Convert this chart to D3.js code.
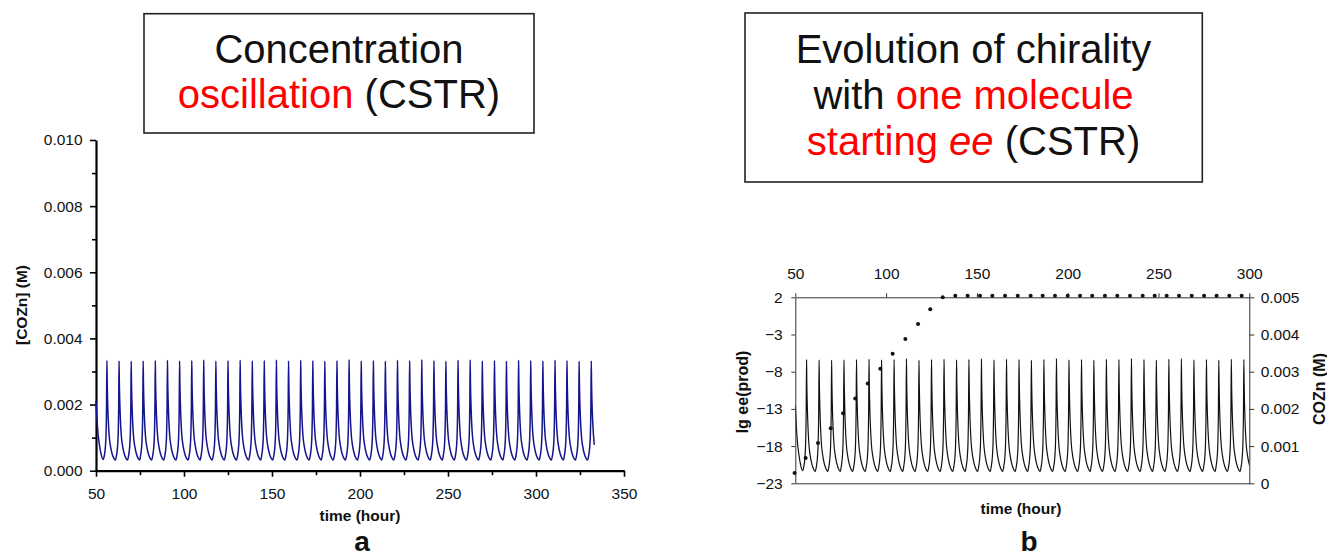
<!DOCTYPE html>
<html><head><meta charset="utf-8">
<script src="https://cdn.jsdelivr.net/npm/d3@7"></script>
<style>body{margin:0;background:#fff} svg{display:block} text{font-family:"Liberation Sans",Arial,sans-serif}</style>
</head><body><svg id="c" width="1327" height="558"></svg>
<script>
// ---------- DATA ----------
// COZn concentration (M): spike times (hour) and spike heights
const peakTimes = [56.2,63.1,70.0,76.8,83.7,90.6,97.5,104.4,111.2,118.1,125.0,131.9,138.8,145.6,152.5,159.4,166.3,173.2,180.0,186.9,193.8,200.7,207.6,214.4,221.3,228.2,235.1,242.0,248.8,255.7,262.6,269.5,276.4,283.2,290.1,297.0,303.9,310.8,317.6,324.5,331.4];
const peakValues = [0.00333,0.00332,0.00331,0.00332,0.00333,0.00334,0.00332,0.00333,0.00335,0.00331,0.00333,0.00334,0.00332,0.00333,0.00335,0.00332,0.00334,0.00333,0.00331,0.00333,0.00336,0.00332,0.00333,0.00331,0.00334,0.00333,0.00336,0.00333,0.00331,0.00334,0.00335,0.00332,0.00333,0.00331,0.00334,0.00333,0.00332,0.00334,0.00333,0.00331,0.00332];
// shape of one cycle: after a spike (hours after, value) and before the next spike (hours before, value)
const decayDt  = [0.15,0.4,0.8,1.3,2.0,2.9,3.9,4.8];
const decayVal = [0.0027,0.0021,0.0015,0.00105,0.00075,0.00052,0.00038,0.00032];
const riseDt   = [-1.5,-0.9,-0.5,-0.22];
const riseVal  = [0.00045,0.0007,0.0011,0.0019];
// beginning and end of the trace
const startTimes  = [50,50.5,51.1,51.9,52.9,54.0];
const startValues = [0.0021,0.0016,0.00115,0.0008,0.0005,0.00034];
const endTime = 333.1, endValue = 0.00078;
// lg ee(prod) points (chart b)
const eeTimes  = [49.6,55.7,62.5,69.5,76.3,83.0,89.9,96.8,103.6,110.6,117.6,124.3,131.2,138.1,144.9,151.7,158.5,165.5,172.5,179.6,186.2,193.0,200.0,206.8,213.5,220.5,227.3,234.3,241.3,247.9,254.5,261.3,268.3,275.1,282.0,289.0,295.8];
const eeValues = [-21.6,-19.6,-17.6,-15.6,-13.6,-11.6,-9.6,-7.6,-5.6,-3.6,-1.6,0.4,2.0,2.2,2.2,2.2,2.2,2.2,2.2,2.2,2.2,2.2,2.2,2.2,2.2,2.2,2.2,2.2,2.2,2.2,2.2,2.2,2.2,2.2,2.2,2.2,2.2];
// ticks
const aXTicks = [50,75,100,125,150,175,200,225,250,275,300,325,350];
const aYTicks = [0,0.001,0.002,0.003,0.004,0.005,0.006,0.007,0.008,0.009,0.010];
const bXTicks = [50,100,150,200,250,300];
const bYLeftTicks = [2,-3,-8,-13,-18,-23];
const bYRightTicks = [0,0.001,0.002,0.003,0.004,0.005];

// ---------- build trace ----------
const trace = startTimes.map((t,i)=>[t,startValues[i]]);
peakTimes.forEach((tp,i)=>{
  riseDt.forEach((d,j)=>trace.push([tp+d,riseVal[j]]));
  trace.push([tp,peakValues[i]]);
  for (let j=0;j<decayDt.length;j++){
    const t = tp+decayDt[j];
    if (i<peakTimes.length-1 && t>=peakTimes[i+1]+riseDt[0]) break;
    if (t>=endTime) break;
    trace.push([t,decayVal[j]]);
  }
});
trace.push([endTime,endValue]);

const svg = d3.select("#c");
const FONT = '"Liberation Sans",Arial,sans-serif';
function styleAxis(g,size){
  g.attr("font-family",null).attr("font-size",null);
  g.selectAll("text").attr("font-size",size).attr("fill","#111").attr("font-family",FONT);
}

// ---------- titles ----------
function titleBox(x,y,w,h,cx,lines){
  svg.append("rect").attr("x",x).attr("y",y).attr("width",w).attr("height",h)
    .attr("fill","none").attr("stroke","#222").attr("stroke-width",1.6);
  lines.forEach(l=>{
    const t = svg.append("text").attr("x",cx).attr("y",l.y).attr("text-anchor","middle").attr("font-size",40);
    l.parts.forEach(p=>{
      const s = t.append("tspan").text(p[0]).attr("fill",p[1]);
      if (p[2]) s.attr("font-style","italic");
    });
  });
}
titleBox(144,13.7,390,119.3,339,[
  {y:63,parts:[["Concentration","#111"]]},
  {y:108,parts:[["oscillation","#ff0000"],[" (CSTR)","#111"]]}
]);
titleBox(745,13,457.3,169,973.5,[
  {y:63,parts:[["Evolution of chirality","#111"]]},
  {y:109,parts:[["with ","#111"],["one molecule","#ff0000"]]},
  {y:155,parts:[["starting ","#ff0000"],["ee","#ff0000",true],[" (CSTR)","#111"]]}
]);

// ---------- chart a ----------
const xA = d3.scaleLinear([50,350],[96,624]);
const yA = d3.scaleLinear([0,0.010],[470.7,140]);
const isMajY = d=>Math.round(d*1000)%2===0;
const gAy = svg.append("g").attr("transform","translate(96,0)")
  .call(d3.axisLeft(yA).tickValues(aYTicks).tickSize(6).tickSizeOuter(0).tickPadding(7.4)
    .tickFormat(d=>isMajY(d)?d3.format(".3f")(d):""));
gAy.selectAll(".tick line").attr("x2",d=>isMajY(d)?-6:-4).attr("stroke","#000").attr("stroke-width",1.6);
gAy.select(".domain").attr("stroke","#000").attr("stroke-width",2.2);
styleAxis(gAy,15.5);
const gAx = svg.append("g").attr("transform","translate(0,470.7)")
  .call(d3.axisBottom(xA).tickValues(aXTicks).tickSize(6).tickSizeOuter(0).tickPadding(11)
    .tickFormat(d=>d%50===0?String(d):""));
gAx.selectAll(".tick line").attr("y2",d=>d%50===0?6:4.5).attr("stroke","#000").attr("stroke-width",1.6);
gAx.select(".domain").attr("stroke","#000").attr("stroke-width",2.2);
styleAxis(gAx,15.5);

const lineA = d3.line().x(d=>xA(d[0])).y(d=>yA(d[1])).curve(d3.curveMonotoneX);
svg.append("path").attr("d",lineA(trace)).attr("fill","none").attr("stroke","#14148c").attr("stroke-width",1.5);

svg.append("text").attr("x",360).attr("y",521).attr("text-anchor","middle").attr("font-size",15.5).attr("font-weight","bold").attr("fill","#111").text("time (hour)");
svg.append("text").attr("transform","translate(27,305) rotate(-90)").attr("text-anchor","middle").attr("font-size",15.5).attr("font-weight","bold").attr("fill","#111").text("[COZn] (M)");
svg.append("text").attr("x",362).attr("y",551).attr("text-anchor","middle").attr("font-size",28).attr("font-weight","bold").attr("fill","#111").text("a");

// ---------- chart b ----------
const xB = d3.scaleLinear([50,300],[795.3,1249.3]);
const yBL = d3.scaleLinear([-23,2],[483.3,297.3]);
const yBR = d3.scaleLinear([0,0.005],[483.3,297.3]);
const AX = "#333";

svg.append("defs").append("clipPath").attr("id","clipB").append("rect")
  .attr("x",795.3).attr("y",280).attr("width",454).attr("height",210);
const lineB = d3.line().x(d=>xB(d[0])).y(d=>yBR(d[1])).curve(d3.curveMonotoneX);
svg.append("path").attr("d",lineB(trace)).attr("clip-path","url(#clipB)")
  .attr("fill","none").attr("stroke","#111").attr("stroke-width",1.2);

const gBt = svg.append("g").attr("transform","translate(0,297.3)")
  .call(d3.axisTop(xB).tickValues(bXTicks).tickSize(4).tickSizeOuter(0).tickPadding(14));
gBt.selectAll("line,path").attr("stroke",AX);
styleAxis(gBt,15.5);
const gBb = svg.append("g").attr("transform","translate(0,483.3)")
  .call(d3.axisBottom(xB).tickValues([]).tickSizeOuter(0));
gBb.selectAll("path").attr("stroke",AX);
const gBl = svg.append("g").attr("transform","translate(795.3,0)")
  .call(d3.axisLeft(yBL).tickValues(bYLeftTicks).tickSize(4).tickSizeOuter(0).tickPadding(8.6).tickFormat(d3.format("d")));
gBl.selectAll("line,path").attr("stroke",AX);
styleAxis(gBl,15.5);
const gBr = svg.append("g").attr("transform","translate(1249.3,0)")
  .call(d3.axisRight(yBR).tickValues(bYRightTicks).tickSize(5).tickSizeOuter(0).tickPadding(6.4)
    .tickFormat(d=>d===0?"0":d3.format(".3f")(d)));
gBr.selectAll("line,path").attr("stroke",AX);
styleAxis(gBr,15.5);

svg.append("g").selectAll("circle").data(eeTimes.map((t,i)=>[t,eeValues[i]])).join("circle")
  .attr("cx",d=>xB(d[0])).attr("cy",d=>yBL(d[1])).attr("r",2).attr("fill","#111");

svg.append("text").attr("x",1021).attr("y",514).attr("text-anchor","middle").attr("font-size",15.5).attr("font-weight","bold").attr("fill","#111").text("time (hour)");
svg.append("text").attr("transform","translate(748,392) rotate(-90)").attr("text-anchor","middle").attr("font-size",16).attr("font-weight","bold").attr("fill","#111").text("lg ee(prod)");
svg.append("text").attr("transform","translate(1325,389) rotate(-90)").attr("text-anchor","middle").attr("font-size",16).attr("font-weight","bold").attr("fill","#111").text("COZn (M)");
svg.append("text").attr("x",1029).attr("y",551).attr("text-anchor","middle").attr("font-size",28).attr("font-weight","bold").attr("fill","#111").text("b");
</script></body></html>
